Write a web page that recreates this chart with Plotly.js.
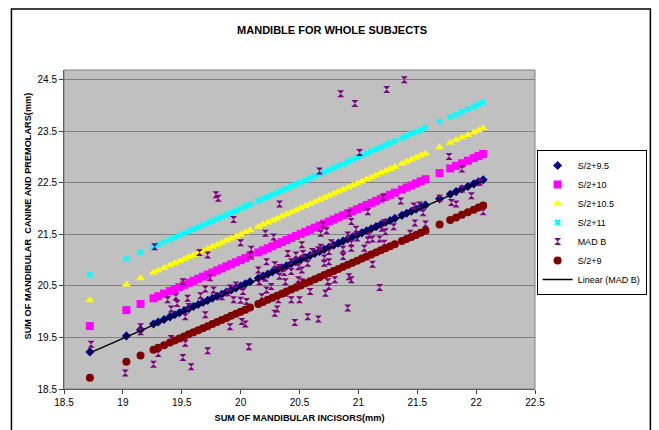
<!DOCTYPE html>
<html>
<head>
<meta charset="utf-8">
<script src="https://cdn.plot.ly/plotly-3.0.1.min.js"></script>
<style>
  html, body { margin: 0; padding: 0; background: #fff; }
  #chart { width: 659px; height: 430px; }
</style>
</head>
<body>
<div id="chart"></div>
<script>
// Sum of mandibular incisors (x values of the formula series)
const incisors = [18.72, 19.03, 19.15, 19.26, 19.30, 19.35,
  19.40, 19.44, 19.48, 19.52, 19.56, 19.60, 19.64, 19.68, 19.72, 19.76, 19.80, 19.84, 19.88, 19.92, 19.96, 20.00, 20.04, 20.08,
  20.15, 20.19, 20.23, 20.27, 20.31, 20.35, 20.39, 20.43, 20.47, 20.51, 20.55, 20.59, 20.63, 20.67, 20.71, 20.75, 20.79, 20.83, 20.87, 20.91, 20.95, 20.99, 21.03, 21.07, 21.11, 21.15, 21.19, 21.23, 21.27, 21.31,
  21.37, 21.41, 21.45, 21.49, 21.53, 21.57,
  21.69, 21.78, 21.83, 21.88, 21.93, 21.98, 22.02, 22.06];

const s95 = [19.22, 19.53, 19.65, 19.76, 19.80, 19.85,
  19.90, 19.94, 19.98, 20.02, 20.06, 20.10, 20.14, 20.18, 20.22, 20.26, 20.30, 20.34, 20.38, 20.42, 20.46, 20.50, 20.54, 20.58,
  20.65, 20.69, 20.73, 20.77, 20.81, 20.85, 20.89, 20.93, 20.97, 21.01, 21.05, 21.09, 21.13, 21.17, 21.21, 21.25, 21.29, 21.33, 21.37, 21.41, 21.45, 21.49, 21.53, 21.57, 21.61, 21.65, 21.69, 21.73, 21.77, 21.81,
  21.87, 21.91, 21.95, 21.99, 22.03, 22.07,
  22.19, 22.28, 22.33, 22.38, 22.43, 22.48, 22.52, 22.56];

const s10 = [19.72, 20.03, 20.15, 20.26, 20.30, 20.35,
  20.40, 20.44, 20.48, 20.52, 20.56, 20.60, 20.64, 20.68, 20.72, 20.76, 20.80, 20.84, 20.88, 20.92, 20.96, 21.00, 21.04, 21.08,
  21.15, 21.19, 21.23, 21.27, 21.31, 21.35, 21.39, 21.43, 21.47, 21.51, 21.55, 21.59, 21.63, 21.67, 21.71, 21.75, 21.79, 21.83, 21.87, 21.91, 21.95, 21.99, 22.03, 22.07, 22.11, 22.15, 22.19, 22.23, 22.27, 22.31,
  22.37, 22.41, 22.45, 22.49, 22.53, 22.57,
  22.69, 22.78, 22.83, 22.88, 22.93, 22.98, 23.02, 23.06];

const s105 = [20.22, 20.53, 20.65, 20.76, 20.80, 20.85,
  20.90, 20.94, 20.98, 21.02, 21.06, 21.10, 21.14, 21.18, 21.22, 21.26, 21.30, 21.34, 21.38, 21.42, 21.46, 21.50, 21.54, 21.58,
  21.65, 21.69, 21.73, 21.77, 21.81, 21.85, 21.89, 21.93, 21.97, 22.01, 22.05, 22.09, 22.13, 22.17, 22.21, 22.25, 22.29, 22.33, 22.37, 22.41, 22.45, 22.49, 22.53, 22.57, 22.61, 22.65, 22.69, 22.73, 22.77, 22.81,
  22.87, 22.91, 22.95, 22.99, 23.03, 23.07,
  23.19, 23.28, 23.33, 23.38, 23.43, 23.48, 23.52, 23.56];

const s11 = [20.72, 21.03, 21.15, 21.26, 21.30, 21.35,
  21.40, 21.44, 21.48, 21.52, 21.56, 21.60, 21.64, 21.68, 21.72, 21.76, 21.80, 21.84, 21.88, 21.92, 21.96, 22.00, 22.04, 22.08,
  22.15, 22.19, 22.23, 22.27, 22.31, 22.35, 22.39, 22.43, 22.47, 22.51, 22.55, 22.59, 22.63, 22.67, 22.71, 22.75, 22.79, 22.83, 22.87, 22.91, 22.95, 22.99, 23.03, 23.07, 23.11, 23.15, 23.19, 23.23, 23.27, 23.31,
  23.37, 23.41, 23.45, 23.49, 23.53, 23.57,
  23.69, 23.78, 23.83, 23.88, 23.93, 23.98, 24.02, 24.06];

const s9 = [18.72, 19.03, 19.15, 19.26, 19.30, 19.35,
  19.40, 19.44, 19.48, 19.52, 19.56, 19.60, 19.64, 19.68, 19.72, 19.76, 19.80, 19.84, 19.88, 19.92, 19.96, 20.00, 20.04, 20.08,
  20.15, 20.19, 20.23, 20.27, 20.31, 20.35, 20.39, 20.43, 20.47, 20.51, 20.55, 20.59, 20.63, 20.67, 20.71, 20.75, 20.79, 20.83, 20.87, 20.91, 20.95, 20.99, 21.03, 21.07, 21.11, 21.15, 21.19, 21.23, 21.27, 21.31,
  21.37, 21.41, 21.45, 21.49, 21.53, 21.57,
  21.69, 21.78, 21.83, 21.88, 21.93, 21.98, 22.02, 22.06];

// Measured MAD B values
const madX = [18.73, 19.02, 19.15, 19.15, 19.26, 19.27, 19.30, 19.38, 19.41, 19.41, 19.45, 19.46, 19.51, 19.51, 19.53, 19.53, 19.55, 19.56, 19.58, 19.65,
  19.66, 19.70, 19.70, 19.72, 19.72, 19.74, 19.77, 19.79, 19.81, 19.84, 19.89, 19.91, 19.91, 19.94, 19.94, 19.96, 20.00, 20.00, 20.01, 20.02,
  20.04, 20.05, 20.07, 20.08, 20.09, 20.15, 20.16, 20.18, 20.21, 20.21, 20.22, 20.22, 20.26, 20.28, 20.29, 20.29, 20.31, 20.32, 20.33, 20.33,
  20.33, 20.37, 20.38, 20.38, 20.40, 20.43, 20.43, 20.43, 20.46, 20.47, 20.49, 20.49, 20.50, 20.52, 20.52, 20.52, 20.53, 20.57, 20.57, 20.59,
  20.61, 20.66, 20.66, 20.67, 20.68, 20.68, 20.70, 20.71, 20.71, 20.72, 20.73, 20.74, 20.75, 20.75, 20.75, 20.77, 20.80, 20.85, 20.87, 20.87,
  20.91, 20.91, 20.92, 20.92, 20.94, 20.94, 20.94, 20.94, 20.97, 20.98, 20.99, 21.01, 21.05, 21.08, 21.08, 21.09, 21.12, 21.12, 21.18, 21.18,
  21.20, 21.21, 21.22, 21.22, 21.23, 21.24, 21.30, 21.36, 21.39, 21.44, 21.47, 21.48, 21.52, 21.55, 21.57, 21.69, 21.77, 21.79, 21.83, 21.88,
  21.88, 21.96, 22.03, 22.06];
const madY = [19.37, 18.81, 19.71, 19.61, 18.98, 21.26, 19.19, 20.23, 20.05, 19.48, 20.29, 20.16, 20.58, 19.11, 19.90, 19.39, 20.26, 20.10, 18.93, 21.15,
  20.31, 20.44, 19.94, 21.10, 19.24, 20.66, 20.42, 22.27, 22.20, 20.29, 20.37, 20.46, 19.71, 21.79, 20.23, 20.52, 21.34, 20.22, 19.81, 20.39,
  19.76, 20.20, 19.32, 21.10, 21.21, 20.81, 20.58, 20.29, 21.52, 20.65, 20.97, 20.42, 20.49, 21.45, 20.91, 19.97, 20.05, 20.23, 22.09, 20.86,
  20.69, 20.76, 20.58, 20.36, 21.13, 20.97, 20.78, 20.23, 19.79, 21.10, 20.87, 20.62, 20.23, 21.30, 20.81, 20.58, 21.13, 20.94, 19.90, 20.39,
  21.17, 21.20, 19.86, 22.73, 21.52, 21.25, 21.68, 20.94, 21.04, 20.36, 21.57, 20.58, 21.17, 20.97, 20.49, 21.34, 20.62, 24.23, 21.07, 21.21,
  21.49, 20.07, 21.91, 20.68, 21.75, 21.33, 21.23, 20.62, 24.04, 21.60, 21.43, 23.09, 21.23, 21.94, 21.39, 21.49, 21.41, 20.92, 21.41, 20.47,
  21.62, 22.22, 21.73, 21.33, 21.55, 24.31, 21.65, 22.15, 24.50, 21.52, 22.05, 21.72, 22.07, 21.92, 21.70, 22.20, 23.01, 22.12, 22.09, 22.77,
  22.38, 22.25, 22.51, 21.94];

// Linear trend line of MAD B (end points)
const trendX = [18.72, 22.05];
const trendY = [19.20, 22.53];

const yTicks = [18.5, 19.5, 20.5, 21.5, 22.5, 23.5, 24.5];
const xTicks = [18.5, 19, 19.5, 20, 20.5, 21, 21.5, 22, 22.5];

const FONT = 'Liberation Sans, Arial, sans-serif';

const traces = [
  { name: 'S/2+9.5', x: incisors, y: s95, type: 'scatter', mode: 'markers',
    marker: { symbol: 'diamond', size: 7, color: '#000080', line: { width: 0 } } },
  { name: 'S/2+10', x: incisors, y: s10, type: 'scatter', mode: 'markers',
    marker: { symbol: 'square', size: 8, color: '#FF00FF', line: { width: 0 } } },
  { name: 'S/2+10.5', x: incisors, y: s105, type: 'scatter', mode: 'markers',
    marker: { symbol: 'triangle-up', size: 8, color: '#FFFF00', line: { width: 0 } } },
  { name: 'S/2+11', x: incisors, y: s11, type: 'scatter', mode: 'markers',
    marker: { symbol: 'x', size: 6, color: '#00FFFF', line: { width: 0 } } },
  { name: 'MAD B', x: madX, y: madY, type: 'scatter', mode: 'markers',
    marker: { symbol: 'hourglass', size: 7, color: '#800080', line: { width: 0 } } },
  { name: 'S/2+9', x: incisors, y: s9, type: 'scatter', mode: 'markers',
    marker: { symbol: 'circle', size: 8, color: '#800000', line: { width: 0 } } },
  { name: 'Linear (MAD B)', x: trendX, y: trendY, type: 'scatter', mode: 'lines',
    line: { color: '#000000', width: 1.5 } }
];

const layout = {
  width: 659, height: 430,
  margin: { l: 64, r: 120, t: 70, b: 41 },
  paper_bgcolor: '#FFFFFF',
  plot_bgcolor: '#C0C0C0',
  font: { family: FONT, size: 10, color: '#000' },
  title: {
    text: '<b>MANDIBLE FOR WHOLE SUBJECTS</b>',
    font: { family: FONT, size: 11, color: '#000' },
    xref: 'container', x: 0.504, xanchor: 'center',
    yref: 'container', y: 0.93, yanchor: 'middle'
  },
  xaxis: {
    range: [18.5, 22.5], tickvals: xTicks, ticktext: xTicks.map(String),
    showgrid: false, zeroline: false,
    showline: true, linecolor: '#404040', linewidth: 1,
    ticks: 'outside', ticklen: 4, tickcolor: '#404040',
    tickfont: { family: FONT, size: 10, color: '#000' },
    title: { text: '<b>SUM OF MANDIBULAR INCISORS(mm)</b>', font: { family: FONT, size: 9.2, color: '#000' }, standoff: 7 },
    automargin: false
  },
  yaxis: {
    range: [18.5, 24.69], tickvals: yTicks, ticktext: yTicks.map(String),
    showgrid: true, gridcolor: '#808080', gridwidth: 1, zeroline: false,
    showline: true, linecolor: '#404040', linewidth: 1,
    ticks: 'outside', ticklen: 4, tickcolor: '#404040',
    tickfont: { family: FONT, size: 10, color: '#000' },
    automargin: false
  },
  annotations: [
    { text: '<b>SUM OF MANDIBULAR  CANINE AND PREMOLARS(mm)</b>', textangle: -90,
      xref: 'paper', yref: 'paper', x: -0.0758, y: 0.542, xanchor: 'center', yanchor: 'middle',
      showarrow: false, font: { family: FONT, size: 9.2, color: '#000' } }
  ],
  showlegend: true,
  legend: {
    x: 1.237, xanchor: 'right', y: 0.522, yanchor: 'middle',
    bgcolor: '#FFFFFF', bordercolor: '#000000', borderwidth: 1,
    font: { family: FONT, size: 9, color: '#000' },
    itemwidth: 30, tracegroupgap: 0
  },
  shapes: [
    { type: 'rect', xref: 'paper', yref: 'paper', x0: 0, x1: 1, y0: 0, y1: 1,
      line: { color: '#808080', width: 1 }, fillcolor: 'rgba(0,0,0,0)', layer: 'above' },
    { type: 'rect', xref: 'paper', yref: 'paper', x0: -0.1116, x1: 1.245, y0: -0.15, y1: 1.191,
      line: { color: '#000000', width: 1.5 }, fillcolor: 'rgba(0,0,0,0)', layer: 'below' }
  ]
};

Plotly.newPlot('chart', traces, layout, { displayModeBar: false, staticPlot: true });
</script>
</body>
</html>
